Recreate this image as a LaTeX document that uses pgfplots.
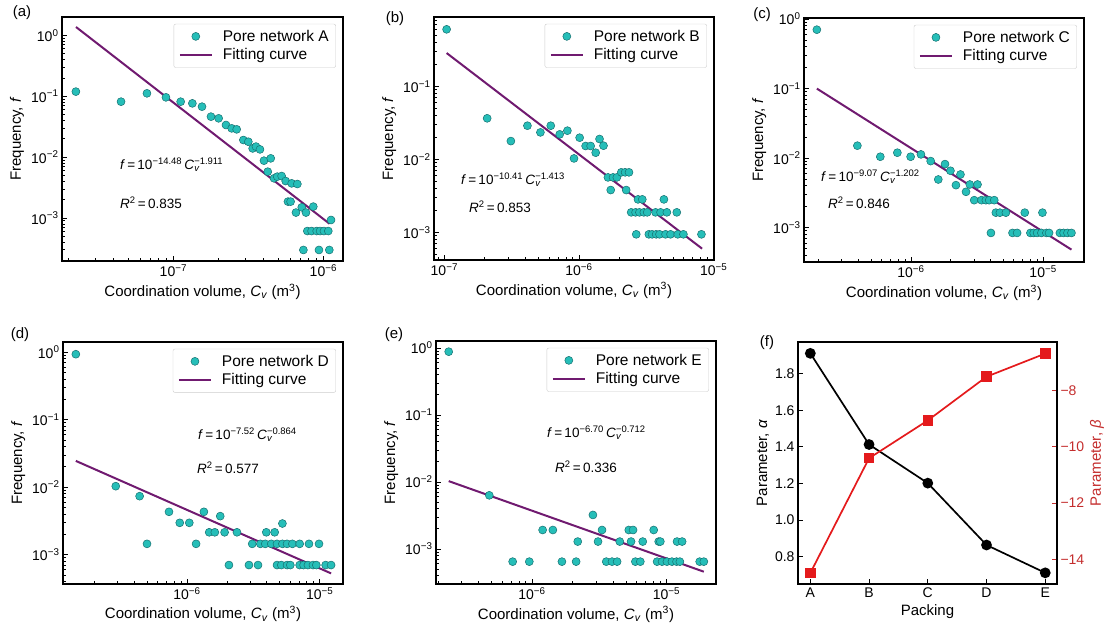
\documentclass[border=0pt]{standalone}
\usepackage{fontspec}
\setmainfont{Liberation Sans}
\usepackage{pgfplots}
\pgfplotsset{compat=1.18}

\definecolor{ptc}{RGB}{38,190,184}
\definecolor{ptedge}{RGB}{22,112,112}
\definecolor{fitc}{RGB}{112,26,112}
\definecolor{bred}{RGB}{228,26,28}
\definecolor{bredtext}{RGB}{196,45,45}

\newcommand{\logtick}{%
  \pgfmathtruncatemacro{\myexp}{round(\tick)}%
  10\textsuperscript{\ifnum\myexp<0 −\number-\myexp\else\myexp\fi}}

\newcommand{\Cv}{\textit{C}\textsubscript{\textit{v}}}

\pgfplotsset{
  mybase/.style={
    scale only axis,
    tick align=inside,
    major tick length=5pt, minor tick length=3pt,
    every tick/.style={black, line width=0.8pt},
    axis line style={line width=1.2pt},
    tick label style={font=\fontsize{14}{16}\selectfont},
    label style={font=\fontsize{15}{17}\selectfont},
  },
  mylog/.style={
    mybase,
    log basis x=10, log basis y=10,
    xticklabel={\logtick}, yticklabel={\logtick},
    xtick pos=bottom, ytick pos=left,
    xlabel={Coordination volume, \Cv{} (m\textsuperscript{3})},
    ylabel={Frequency, \textit{f}},
    xlabel style={at={(axis description cs:0.5,-0.125)}, anchor=center},
    ylabel style={at={(axis description cs:-0.16,0.5)}, anchor=center},
    legend style={at={(0.975,0.972)}, anchor=north east, draw=black!20,
      rounded corners=2pt, font=\fontsize{15.5}{18}\selectfont,
      inner xsep=5pt, inner ysep=4pt, row sep=2pt,
      /tikz/every odd column/.append style={column sep=8pt}},
    legend cell align=left,
    legend image code/.code={\draw[mark repeat=2,mark phase=2,##1] plot coordinates {(0pt,0pt)(16pt,0pt)(32pt,0pt)};},
  },
  scat/.style={only marks, mark=*, mark size=4pt, mark options={fill=ptc, draw=ptedge, line width=0.5pt}},
  fitl/.style={no marks, color=fitc, line width=2pt},
}

\begin{document}
\begin{tikzpicture}
\path[use as bounding box] (0pt,0pt) rectangle (1104pt,-632pt);

% ---------------- (a)
\begin{loglogaxis}[mylog, width=281pt, height=244pt, at={(62pt,-261pt)}, anchor=south west,
  xmin=1.81e-8, xmax=1.352e-6, ymin=1.97e-4, ymax=2.0]
\addplot[scat] coordinates {
(2.24e-8,0.119) (4.48e-8,0.0814) (6.67e-8,0.1116) (8.93e-8,0.0959) (1.119e-7,0.0814)
(1.339e-7,0.0764) (1.553e-7,0.0674) (1.782e-7,0.0462) (2.004e-7,0.0434) (2.244e-7,0.0337)
(2.449e-7,0.0297) (2.644e-7,0.0286) (2.93e-7,0.0191) (3.162e-7,0.0179) (3.38e-7,0.0139)
(3.556e-7,0.0149) (3.78e-7,0.0134) (4.02e-7,0.00875) (4.46e-7,0.00955) (4.26e-7,0.00577)
(4.69e-7,0.00449) (4.93e-7,0.00478) (5.27e-7,0.0049) (5.61e-7,0.00405) (6.15e-7,0.00371)
(6.71e-7,0.00362) (5.81e-7,0.00186) (6.05e-7,0.00186) (6.57e-7,0.00123) (7.18e-7,0.0015)
(7.66e-7,0.00123) (8.57e-7,0.00154) (7.82e-7,6.12e-4) (8.35e-7,6.12e-4) (9.03e-7,6.12e-4)
(9.51e-7,6.12e-4) (1.009e-6,6.12e-4) (1.079e-6,6.12e-4) (1.125e-6,9.29e-4)
(7.36e-7,2.99e-4) (9.35e-7,2.99e-4) (1.096e-6,2.99e-4)
};
\addlegendentry{Pore network A}
\addplot[fitl] coordinates {(2.244e-8,1.371) (1.10e-6,8.05e-4)};
\addlegendentry{Fitting curve}
\end{loglogaxis}

% ---------------- (b)
\begin{loglogaxis}[mylog, width=280pt, height=243pt, at={(434pt,-260pt)}, anchor=south west,
  xmin=8.38e-8, xmax=1.005e-5, ymin=4.18e-4, ymax=0.891]
\addplot[scat] coordinates {
(1.04e-7,0.604) (2.08e-7,0.0365) (3.12e-7,0.0178) (4.14e-7,0.0289) (5.17e-7,0.0234)
(6.17e-7,0.0289) (7.19e-7,0.0220) (8.2e-7,0.0247) (9.18e-7,0.0103) (1.011e-6,0.0198)
(1.12e-6,0.01524) (1.22e-6,0.01524) (1.33e-6,0.01233) (1.42e-6,0.0190) (1.52e-6,0.01538)
(1.64e-6,0.00566) (1.79e-6,0.00566) (1.72e-6,0.0038) (1.91e-6,0.00566) (2.06e-6,0.00664)
(2.20e-6,0.00664) (2.35e-6,0.00664) (2.24e-6,0.0038) (2.74e-6,0.00283) (2.95e-6,0.00283)
(4.27e-6,0.00283) (2.44e-6,0.00188) (2.63e-6,0.00188) (2.81e-6,0.00188) (3.03e-6,0.00188)
(3.21e-6,0.00188) (3.70e-6,0.00188) (4.03e-6,0.00188) (4.49e-6,0.00188) (5.32e-6,0.00188)
(2.66e-6,9.4e-4) (3.30e-6,9.4e-4) (3.49e-6,9.4e-4) (3.74e-6,9.4e-4) (3.96e-6,9.4e-4)
(4.39e-6,9.4e-4) (4.78e-6,9.4e-4) (5.41e-6,9.4e-4) (5.96e-6,9.4e-4) (8.11e-6,9.4e-4)
};
\addlegendentry{Pore network B}
\addplot[fitl] coordinates {(1.04e-7,0.286) (8.2e-6,5.98e-4)};
\addlegendentry{Fitting curve}
\end{loglogaxis}

% ---------------- (c)
\begin{loglogaxis}[mylog, width=280pt, height=244pt, at={(804pt,-262pt)}, anchor=south west,
  xmin=1.55e-7, xmax=2.04e-5, ymin=3.2e-4, ymax=1.034]
\addplot[scat] coordinates {
(1.94e-7,0.702) (3.93e-7,0.01507) (5.86e-7,0.01045) (7.89e-7,0.01194) (9.94e-7,0.01045)
(1.19e-6,0.01129) (1.41e-6,0.00905) (1.61e-6,0.00492) (1.81e-6,0.00819) (1.99e-6,0.00657)
(2.19e-6,0.00408) (2.37e-6,0.00581) (2.61e-6,0.00327) (2.79e-6,0.00417) (3.19e-6,0.00417)
(3.01e-6,0.00248) (3.42e-6,0.00248) (3.69e-6,0.00248) (3.91e-6,0.00248) (4.27e-6,0.00248)
(4.39e-6,0.00164) (4.71e-6,0.00164) (5.23e-6,0.00164) (7.27e-6,0.00164) (9.89e-6,0.00164)
(4.03e-6,8.38e-4) (5.87e-6,8.38e-4) (6.36e-6,8.38e-4) (8.02e-6,8.38e-4) (8.49e-6,8.38e-4)
(9.01e-6,8.38e-4) (9.71e-6,8.38e-4) (1.06e-5,8.38e-4) (1.11e-5,8.38e-4) (1.34e-5,8.38e-4)
(1.43e-5,8.38e-4) (1.53e-5,8.38e-4) (1.64e-5,8.38e-4)
};
\addlegendentry{Pore network C}
\addplot[fitl] coordinates {(1.94e-7,0.0998) (1.64e-5,4.82e-4)};
\addlegendentry{Fitting curve}
\end{loglogaxis}

% ---------------- (d)
\begin{loglogaxis}[mylog, width=280pt, height=242pt, at={(63pt,-584pt)}, anchor=south west,
  xmin=1.16e-7, xmax=1.50e-5, ymin=3.69e-4, ymax=1.41]
\addplot[scat] coordinates {
(1.45e-7,0.93) (2.90e-7,0.01035) (4.39e-7,0.00736) (4.99e-7,0.00145) (7.31e-7,0.00432)
(8.81e-7,0.00297) (1.04e-6,0.00297) (1.17e-6,0.00145) (1.34e-6,0.00432) (1.47e-6,0.00215)
(1.62e-6,0.00215) (1.78e-6,0.00373) (1.92e-6,0.00215) (2.38e-6,0.00215) (2.07e-6,7.04e-4)
(2.93e-6,7.04e-4) (3.43e-6,7.04e-4) (3.96e-6,0.00215) (4.58e-6,0.00215) (5.24e-6,0.0029)
(3.10e-6,0.00145) (3.57e-6,0.00145) (3.89e-6,0.00145) (4.32e-6,0.00145) (4.77e-6,0.00145)
(5.24e-6,0.00145) (5.68e-6,0.00145) (6.23e-6,0.00145) (7.07e-6,0.00145) (8.31e-6,0.00145)
(9.89e-6,0.00145)
(4.77e-6,7.04e-4) (5.14e-6,7.04e-4) (5.68e-6,7.04e-4) (6.01e-6,7.04e-4) (7.07e-6,7.04e-4)
(7.57e-6,7.04e-4) (8.16e-6,7.04e-4) (8.91e-6,7.04e-4) (9.44e-6,7.04e-4) (1.11e-5,7.04e-4)
(1.22e-5,7.04e-4)
};
\addlegendentry{Pore network D}
\addplot[fitl] coordinates {(1.45e-7,0.0245) (1.22e-5,5.30e-4)};
\addlegendentry{Fitting curve}
\end{loglogaxis}

% ---------------- (e)
\begin{loglogaxis}[mylog, width=280pt, height=243pt, at={(436pt,-584pt)}, anchor=south west,
  xmin=1.93e-7, xmax=2.34e-5, ymin=3.0e-4, ymax=1.27]
\addplot[scat] coordinates {
(2.40e-7,0.88) (4.81e-7,0.00632)
(1.20e-6,1.92e-3) (1.43e-6,1.92e-3) (3.32e-6,1.92e-3) (5.25e-6,1.92e-3) (5.65e-6,1.92e-3) (8.05e-6,1.92e-3)
(2.84e-6,3.22e-3)
(2.19e-6,1.29e-3) (3.10e-6,1.29e-3) (4.50e-6,1.29e-3) (5.46e-6,1.29e-3) (6.67e-6,1.29e-3)
(8.77e-6,1.29e-3) (9.02e-6,1.29e-3) (1.20e-5,1.29e-3) (1.31e-5,1.29e-3)
(7.18e-7,6.47e-4) (9.55e-7,6.47e-4) (1.67e-6,6.47e-4) (2.13e-6,6.47e-4) (3.57e-6,6.47e-4)
(3.94e-6,6.47e-4) (4.30e-6,6.47e-4) (5.88e-6,6.47e-4) (6.40e-6,6.47e-4) (8.53e-6,6.47e-4)
(9.29e-6,6.47e-4) (1.01e-5,6.47e-4) (1.10e-5,6.47e-4) (1.19e-5,6.47e-4) (1.26e-5,6.47e-4)
(1.77e-5,6.47e-4) (1.90e-5,6.47e-4)
};
\addlegendentry{Pore network E}
\addplot[fitl] coordinates {(2.40e-7,0.0103) (1.90e-5,4.58e-4)};
\addlegendentry{Fitting curve}
\end{loglogaxis}

% ---------------- (f)
\begin{axis}[mybase, width=259pt, height=242pt, at={(798pt,-584pt)}, anchor=south west,
  xmin=-0.21, xmax=4.2, ymin=0.651, ymax=1.973,
  xtick={0,1,2,3,4}, xticklabels={A,B,C,D,E},
  ytick={0.8,1.0,1.2,1.4,1.6,1.8}, yticklabels={0.8,1.0,1.2,1.4,1.6,1.8},
  xtick pos=bottom, ytick pos=left,
  xlabel={Packing}, ylabel={Parameter, \textit{α}},
  xlabel style={at={(axis description cs:0.5,-0.116)}, anchor=center},
  ylabel style={at={(axis description cs:-0.135,0.5)}, anchor=center}]
\addplot[black, line width=1.7pt, mark=*, mark size=4.5pt] coordinates {
(0,1.911) (1,1.413) (2,1.202) (3,0.864) (4,0.712)};
\end{axis}
\begin{axis}[mybase, width=259pt, height=242pt, at={(798pt,-584pt)}, anchor=south west,
  xmin=-0.21, xmax=4.2, ymin=-14.87, ymax=-6.29,
  axis y line*=right, axis x line=none,
  ytick={-14,-12,-10,-8}, yticklabels={−14,−12,−10,−8},
  every tick/.style={bredtext, line width=0.8pt},
  yticklabel style={text=bredtext},
  ylabel={Parameter, \textit{β}},
  ylabel style={text=bredtext, at={(axis description cs:1.154,0.5)}, anchor=center}]
\addplot[bred, line width=1.7pt, mark=square*, mark size=4.4pt] coordinates {
(0,-14.48) (1,-10.41) (2,-9.07) (3,-7.52) (4,-6.70)};
\end{axis}

% ---------------- annotations
\begin{scope}[every node/.style={font=\fontsize{13.5}{15}\selectfont, inner sep=0pt}]
\node[anchor=west] at (120pt,-165pt) {\textit{f}\,=\,10\textsuperscript{−14.48}\,\textit{C}\rlap{\textsubscript{\textit{v}}}\textsuperscript{−1.911}};
\node[anchor=west] at (120pt,-203pt) {\textit{R}\textsuperscript{2}\,=\,0.835};
\node[anchor=west] at (461pt,-180pt) {\textit{f}\,=\,10\textsuperscript{−10.41}\,\textit{C}\rlap{\textsubscript{\textit{v}}}\textsuperscript{−1.413}};
\node[anchor=west] at (469pt,-207pt) {\textit{R}\textsuperscript{2}\,=\,0.853};
\node[anchor=west] at (821pt,-177pt) {\textit{f}\,=\,10\textsuperscript{−9.07}\,\textit{C}\rlap{\textsubscript{\textit{v}}}\textsuperscript{−1.202}};
\node[anchor=west] at (828pt,-203pt) {\textit{R}\textsuperscript{2}\,=\,0.846};
\node[anchor=west] at (198pt,-435pt) {\textit{f}\,=\,10\textsuperscript{−7.52}\,\textit{C}\rlap{\textsubscript{\textit{v}}}\textsuperscript{−0.864}};
\node[anchor=west] at (197pt,-468pt) {\textit{R}\textsuperscript{2}\,=\,0.577};
\node[anchor=west] at (547pt,-433pt) {\textit{f}\,=\,10\textsuperscript{−6.70}\,\textit{C}\rlap{\textsubscript{\textit{v}}}\textsuperscript{−0.712}};
\node[anchor=west] at (555pt,-467pt) {\textit{R}\textsuperscript{2}\,=\,0.336};
\end{scope}
\begin{scope}[every node/.style={font=\fontsize{15}{17}\selectfont, inner sep=0pt}]
\node at (22pt,-13pt) {(a)};
\node at (395pt,-19pt) {(b)};
\node at (762pt,-15pt) {(c)};
\node at (20pt,-335pt) {(d)};
\node at (394pt,-335pt) {(e)};
\node at (767pt,-343pt) {(f)};
\end{scope}
\end{tikzpicture}
\end{document}
